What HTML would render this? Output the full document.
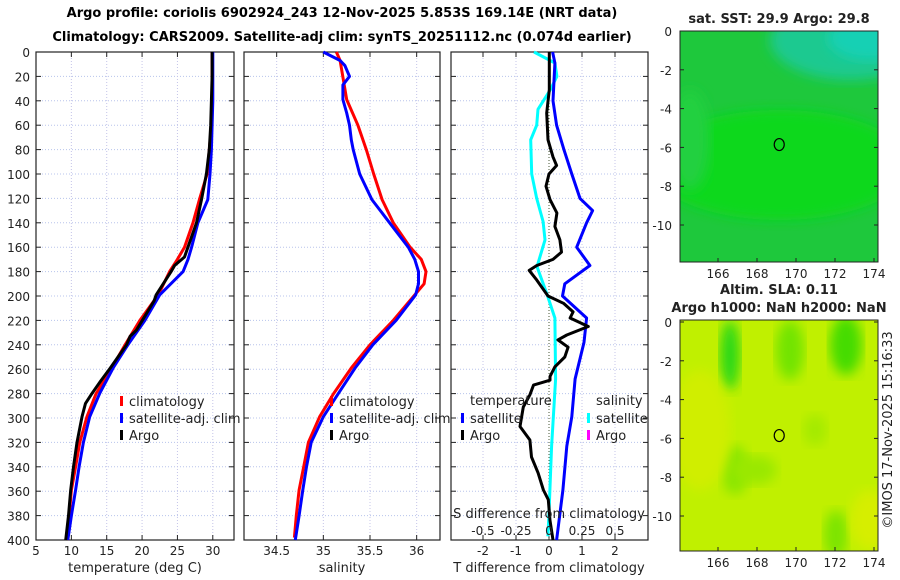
<!DOCTYPE html>
<html><head><meta charset="utf-8"><style>
body{margin:0;background:#fff;}
svg{display:block;font-family:"DejaVu Sans","Liberation Sans",sans-serif;}
</style></head><body>
<svg id="s" width="900" height="580" viewBox="0 0 900 580">
<defs>
<filter id="bl"><feGaussianBlur stdDeviation="6"/></filter>
</defs>
<text x="342" y="17" text-anchor="middle" font-weight="bold" font-size="13">Argo profile: coriolis 6902924_243 12-Nov-2025 5.853S 169.14E (NRT data)</text>
<text x="342" y="41" text-anchor="middle" font-weight="bold" font-size="13">Climatology: CARS2009. Satellite-adj clim: synTS_20251112.nc (0.074d earlier)</text>
<g id="p1"></g>
<g id="p2"></g>
<g id="p3"></g>
<g id="m1"></g>
<g id="m2"></g>
<text transform="translate(892,430) rotate(-90)" text-anchor="middle" font-size="13" fill="#222">©IMOS 17-Nov-2025 15:16:33</text>
</svg>
<script>
const tDepths=[0,20,40,60,80,100,121,140,160,170,180,199,220,240,259,280,299,320,340,359,380,400];
const climT=[29.9,29.9,29.9,29.8,29.5,29.2,28.1,27.2,26.0,25.0,23.9,22.3,19.7,17.6,15.7,13.5,12.2,11.2,10.6,10.0,9.7,9.4];
const satT=[30.0,30.0,30.0,29.9,29.8,29.6,29.3,27.9,27.0,26.5,25.8,22.5,20.4,18.0,15.9,14.0,12.6,11.7,11.1,10.6,10.0,9.5];
const argoDepths=[0,20,40,60,80,100,121,140,168,175,180,199,204,228,233,240,259,270,280,288,299,320,340,359,380,400];
const argoT=[29.9,29.9,29.8,29.7,29.5,29.1,28.4,27.7,26.0,24.6,24.1,22.0,21.7,19.2,18.3,17.8,15.5,14.1,12.9,12.0,11.5,10.8,10.3,9.9,9.6,9.2];
const climSDepths=[0,7,39,60,80,100,121,140,160,170,180,190,199,220,240,259,280,299,320,340,359,380,398];
const climS=[35.14,35.18,35.25,35.37,35.46,35.54,35.63,35.75,35.93,36.05,36.10,36.08,35.98,35.75,35.50,35.30,35.11,34.96,34.84,34.79,34.74,34.71,34.69];
const satSDepths=[0,7,11,20,27,39,50,60,72,80,100,121,140,160,170,180,190,199,220,240,259,280,299,320,340,359,380,400];
const satS=[35.00,35.18,35.23,35.28,35.21,35.21,35.25,35.28,35.30,35.32,35.39,35.52,35.71,35.91,35.98,36.02,36.02,35.99,35.78,35.53,35.34,35.16,35.00,34.87,34.82,34.78,34.74,34.70];
const dTsatDepth=[0,9,40,60,80,100,120,130,140,160,175,190,200,218,238,268,299,323,359,400];
const dTsat=[0.11,0.18,0.12,0.23,0.45,0.69,0.94,1.32,1.14,0.84,1.24,0.48,0.41,1.14,1.06,0.79,0.69,0.54,0.42,0.23];
const dSsatDepth=[0,9,20,31,47,60,72,100,120,139,154,176,198,218,268,323,378,397];
const dSsat=[-0.114,0.045,0.06,0.01,-0.083,-0.093,-0.139,-0.131,-0.093,-0.045,-0.030,-0.091,-0.017,0.045,0.05,0.02,0.0,-0.008];
const dTargoDepth=[0,31,50,72,86,93,100,110,121,132,143,154,164,170,175,179,187,200,206,213,218,225,232,236,242,250,258,266,269,273,281,291,307,318,332,345,359,367,384,400];
const dTargo=[0.01,0.01,-0.07,-0.03,0.12,0.23,0.0,-0.09,0.03,0.24,0.18,0.33,0.38,0.12,-0.37,-0.6,-0.37,-0.03,0.44,0.73,0.64,1.19,0.54,0.27,0.58,0.48,0.18,0.03,0.03,-0.47,-0.58,-0.78,-0.88,-0.58,-0.53,-0.33,-0.17,-0.02,0.03,0.12];
const tTicks=[5,10,15,20,25,30];
const sTicks=[34.5,35,35.5,36];
const dTTicks=[-2,-1,0,1,2];
const dSTicks=[-0.5,-0.25,0,0.25,0.5];
const dSTickLabels=["-0.5","-0.25","0","0.25","0.5"];
const depthTicks=[0,20,40,60,80,100,120,140,160,180,200,220,240,260,280,300,320,340,360,380,400];
const lonTicks=[166,168,170,172,174];
const latTicks=[0,-2,-4,-6,-8,-10];

const NS="http://www.w3.org/2000/svg";
function mk(parent,tag,attrs){const e=document.createElementNS(NS,tag);for(const k in attrs)e.setAttribute(k,attrs[k]);parent.appendChild(e);return e;}
const Y0=52,Y1=540;
const yD=d=>Y0+(d/400)*(Y1-Y0);

function panel(g,x0,x1,xmin,xmax,xt,xtl,ylabels,name){
  const sx=v=>x0+(v-xmin)/(xmax-xmin)*(x1-x0);
  const grid=mk(g,'g',{});
  
  
  depthTicks.forEach(d=>{if(d>0&&d<400)mk(grid,'line',{x1:x0,x2:x1,y1:yD(d),y2:yD(d),stroke:'#b8c4ec','stroke-width':1,'stroke-dasharray':'1,2'});
    mk(grid,'line',{x1:x0,x2:x0+5,y1:yD(d),y2:yD(d),stroke:'#222'});mk(grid,'line',{x1:x1-5,x2:x1,y1:yD(d),y2:yD(d),stroke:'#222'});
    if(ylabels){const t=mk(g,'text',{x:x0-6,y:yD(d)+5,'text-anchor':'end','font-size':12,fill:'#222'});t.textContent=d;}
  });
  xt.forEach((v,i)=>{const x=sx(v);mk(grid,'line',{x1:x,x2:x,y1:Y0,y2:Y1,stroke:'#c4c4e8','stroke-width':1,'stroke-dasharray':'1,2'});
    mk(grid,'line',{x1:x,x2:x,y1:Y1,y2:Y1-5,stroke:'#222'});mk(grid,'line',{x1:x,x2:x,y1:Y0,y2:Y0+5,stroke:'#222'});
    const t=mk(g,'text',{x:x,y:555,'text-anchor':'middle','font-size':12,fill:'#222'});t.textContent=xtl?xtl[i]:v;
    });
  const fr=mk(g,'rect',{x:x0,y:Y0,width:x1-x0,height:Y1-Y0,fill:'none',stroke:'#222','stroke-width':1.2});
  
  return sx;
}
function line(g,sx,vals,ds,color,nm,w){
  const p=mk(g,'polyline',{points:vals.map((v,i)=>sx(v).toFixed(1)+','+yD(ds[i]).toFixed(1)).join(' '),fill:'none',stroke:color,'stroke-width':w||3,'stroke-linejoin':'round'});
  
}
function txt(g,x,y,s,nm,opt){const t=mk(g,'text',Object.assign({x:x,y:y,'font-size':13,fill:'#222'},opt||{}));t.textContent=s;return t;}
function legend(g,x,y,items,nm){items.forEach((it,i)=>{const yy=y+i*17;
  if(it[1]){const r=mk(g,'rect',{x:x,y:yy-10,width:3,height:10,fill:it[1]});}
  txt(g,x+9,yy,it[0],nm+'-entry');});}

// Panel 1
const p1=document.getElementById('p1');
const sx1=panel(p1,36,234,5,33.0,tTicks,null,true,'temperature');
line(p1,sx1,climT,tDepths,'#ff0000','climatology-temp-line');
line(p1,sx1,satT,tDepths,'#0000ff','satellite-temp-line');
line(p1,sx1,argoT,argoDepths,'#000','argo-temp-line');
txt(p1,135,572,'temperature (deg C)','temperature-axis-title',{'text-anchor':'middle'});
legend(p1,120,406,[['climatology','#f00'],['satellite-adj. clim','#00f'],['Argo','#000']],'temperature-legend');

// Panel 2
const p2=document.getElementById('p2');
const sx2=panel(p2,244,440,34.15,36.25,sTicks,null,false,'salinity');
line(p2,sx2,climS,climSDepths,'#ff0000','climatology-salinity-line');
line(p2,sx2,satS,satSDepths,'#0000ff','satellite-salinity-line');
txt(p2,342,572,'salinity','salinity-axis-title',{'text-anchor':'middle'});
legend(p2,330,406,[['climatology','#f00'],['satellite-adj. clim','#00f'],['Argo','#000']],'salinity-legend');

// Panel 3
const p3=document.getElementById('p3');
const sx3=panel(p3,451,648,-2.97,3.0,dTTicks,null,false,'difference');
const sxS=v=>549+v*132;
mk(p3,'line',{x1:549,x2:549,y1:Y0,y2:Y1,stroke:'#445533','stroke-width':1,'stroke-dasharray':'1,2'});
line(p3,sxS,dSsat,dSsatDepth,'#00ffff','satellite-salinity-diff-line');
line(p3,sx3,dTsat,dTsatDepth,'#0000ff','satellite-temp-diff-line');
line(p3,sx3,dTargo,dTargoDepth,'#000','argo-temp-diff-line');
txt(p3,549,572,'T difference from climatology','t-diff-axis-title',{'text-anchor':'middle'});
txt(p3,549,518,'S difference from climatology','s-diff-axis-title',{'text-anchor':'middle'});
dSTicks.forEach((v,i)=>txt(p3,sxS(v),535,dSTickLabels[i],'s-diff-tick-label',{'text-anchor':'middle','font-size':12}));
txt(p3,470,405,'temperature','temp-legend-header');
legend(p3,461,423,[['satellite','#00f'],['Argo','#000']],'diff-temp-legend');
txt(p3,596,405,'salinity','salinity-legend-header');
legend(p3,587,423,[['satellite','#0ff'],['Argo','#f0f']],'diff-salinity-legend');

// Maps
function map(g,y0,y1,lat0y,title,kind){
  const x0=680,x1=878;
  const sx=l=>718+(l-166)*19.5, sy=la=>lat0y-la*19.4;
  const clip='c'+kind;
  const cp=mk(g,'clipPath',{id:clip});mk(cp,'rect',{x:x0,y:y0,width:x1-x0,height:y1-y0});
  const f=mk(g,'g',{'clip-path':'url(#'+clip+')'});
  
  if(kind==='sst'){
    mk(f,'rect',{x:x0,y:y0,width:x1-x0,height:y1-y0,fill:'#1ec83c'});
    mk(f,'ellipse',{cx:780,cy:165,rx:130,ry:55,fill:'#0cd81c',filter:'url(#bl)'});
    mk(f,'ellipse',{cx:690,cy:140,rx:20,ry:50,fill:'#22d040',filter:'url(#bl)'});
    mk(f,'ellipse',{cx:850,cy:40,rx:80,ry:40,fill:'#1cc990',filter:'url(#bl)'});
    mk(f,'ellipse',{cx:868,cy:38,rx:40,ry:22,fill:'#12d0b4',filter:'url(#bl)'});
  } else {
    mk(f,'rect',{x:x0,y:y0,width:x1-x0,height:y1-y0,fill:'#c0f000'});
    [[730,355,10,35,'#2cd816'],[790,350,14,30,'#72e400'],[846,345,16,30,'#44dc00'],[735,470,14,25,'#8ae600'],[755,470,22,15,'#9ae800'],[836,535,12,25,'#7ce400'],[815,430,12,16,'#a4ea00'],[700,430,30,60,'#d0ee00'],[870,520,20,30,'#d6ee00']].forEach(e=>mk(f,'ellipse',{cx:e[0],cy:e[1],rx:e[2],ry:e[3],fill:e[4],filter:'url(#bl)'}));
  }
  const fr=mk(g,'rect',{x:x0,y:y0,width:x1-x0,height:y1-y0,fill:'none',stroke:'#222','stroke-width':1});
  
  const c=mk(g,'ellipse',{cx:sx(169.14),cy:sy(-5.853),rx:5,ry:6,fill:'none',stroke:'#000','stroke-width':1.2});
  
  latTicks.forEach(la=>{const y=sy(la);mk(g,'line',{x1:x0,x2:x0+4,y1:y,y2:y,stroke:'#222'});mk(g,'line',{x1:x1-4,x2:x1,y1:y,y2:y,stroke:'#222'});
    txt(g,672,y+5,String(la),kind+'-lat-tick-label',{'text-anchor':'end','font-size':12});});
  lonTicks.forEach(lo=>{const x=sx(lo);mk(g,'line',{x1:x,x2:x,y1:y1,y2:y1-4,stroke:'#222'});
    txt(g,x,y1+16,String(lo),kind+'-lon-tick-label',{'text-anchor':'middle','font-size':12});});
  title.forEach((t,i)=>txt(g,779,y0-8-(title.length-1-i)*18,t,kind+'-map-title',{'text-anchor':'middle','font-weight':'bold'}));
}
map(document.getElementById('m1'),31,262,31,['sat. SST: 29.9 Argo: 29.8'],'sst');
map(document.getElementById('m2'),320,551,322,['Altim. SLA: 0.11','Argo h1000: NaN h2000: NaN'],'sla');
</script>
</body></html>
